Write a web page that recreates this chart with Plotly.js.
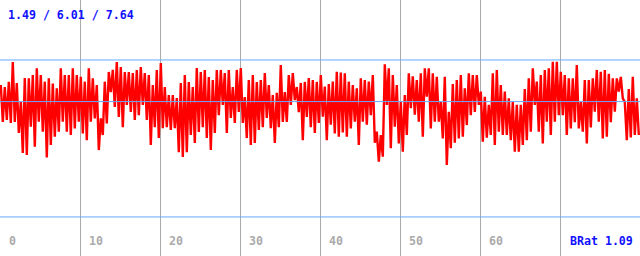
<!DOCTYPE html>
<html>
<head>
<meta charset="utf-8">
<script src="https://cdn.plot.ly/plotly-3.0.1.min.js"></script>
<style>
  html, body { margin: 0; padding: 0; background: #ffffff; }
  #chart { width: 640px; height: 256px; }
</style>
</head>
<body>
<div id="chart"></div>
<script>
// Per-column upper and lower readings of the signal (column width = 0.5 x-units)
const hiValues = [
  6.66,6.58,6.78,7.56,6.74,5.99,6.93,6.92,7.05,7.31,
  7.05,6.79,6.92,6.72,6.53,7.31,7.05,7.05,7.31,7.05,
  6.98,6.79,7.31,6.92,6.66,5.35,6.79,7.17,7.25,7.56,
  7.36,7.17,7.17,7.13,7.25,7.36,7.13,7.05,6.66,7.25,
  7.52,6.58,6.27,6.27,6.15,6.74,7.05,6.78,6.58,7.32,
  7.17,7.25,6.97,6.85,7.25,7.25,7.13,7.25,6.58,7.25,
  7.32,6.19,6.85,7.05,6.78,6.85,7.13,6.66,6.27,6.35,
  7.44,6.38,7.05,7.13,6.58,6.74,6.78,6.93,6.85,6.78,
  7.05,6.60,6.70,6.79,7.18,7.15,7.12,6.79,6.66,6.53,
  6.92,6.85,6.79,7.05,4.83,4.70,7.47,7.31,7.05,6.66,
  6.00,6.27,7.12,7.00,6.85,7.12,7.31,7.31,7.12,6.98,
  6.00,6.98,5.61,6.70,6.85,7.05,6.53,7.12,7.05,7.05,
  6.40,6.20,5.88,7.12,7.25,6.66,6.40,6.14,6.00,5.88,
  5.88,6.50,6.92,7.31,6.79,7.05,7.25,7.31,7.57,7.57,
  7.18,7.05,6.92,6.92,7.44,6.00,6.85,6.85,6.92,7.25,
  7.18,7.25,7.10,6.92,6.92,6.98,6.00,6.50,6.98,6.14
];
const loValues = [
  5.21,5.29,5.17,5.21,4.78,4.00,3.92,5.03,4.24,5.22,
  4.83,3.82,4.31,4.63,4.83,5.22,4.83,4.70,4.96,5.22,
  4.76,4.50,5.22,5.35,4.11,4.70,5.15,6.38,5.80,5.41,
  5.01,5.88,5.60,5.29,5.48,5.88,5.29,4.31,5.01,4.58,
  4.97,5.01,4.90,4.97,4.03,3.84,4.03,4.70,4.39,4.82,
  5.01,4.58,4.11,4.78,5.48,5.88,4.78,5.37,5.17,5.60,
  5.17,4.58,4.31,4.39,4.90,5.01,5.37,4.97,4.39,5.01,
  5.21,5.21,5.88,6.07,5.60,4.50,5.41,5.01,4.78,5.17,
  5.42,4.50,5.10,4.76,4.63,4.80,4.63,4.96,5.22,4.31,
  5.22,5.10,5.48,4.40,3.66,3.85,5.88,4.18,5.03,4.37,
  4.05,4.70,5.75,5.50,5.22,4.63,6.20,4.96,5.22,5.22,
  4.57,3.53,4.18,4.40,4.57,4.63,5.09,5.48,5.60,5.88,
  4.44,4.60,4.70,4.31,4.83,4.70,4.70,4.50,4.05,4.05,
  4.31,4.50,4.83,5.88,4.83,4.37,5.22,4.70,5.22,5.48,
  5.48,4.70,4.96,5.20,4.96,4.83,4.37,5.00,5.61,5.22,
  4.57,4.63,5.20,5.61,6.40,6.14,4.50,4.60,4.70,4.70
];
const refLevels = [1.49, 6.01, 7.64];         // horizontal reference lines
const headerText = "1.49 / 6.01 / 7.64";
const tickValues = [0, 10, 20, 30, 40, 50, 60];
const tickLabels = ["0", "10", "20", "30", "40", "50", "60"];
const footerValue = 70;
const footerText = "BRat 1.09";

const colStep = 0.5;
const xs = [], ys = [];
for (let k = 0; k < hiValues.length; k++) {
  xs.push(k * colStep, k * colStep + colStep / 2);
  ys.push(hiValues[k], loValues[k]);
}

const monoFont = "DejaVu Sans Mono, monospace";

const annotations = tickValues.map((v, i) => ({
  x: v, xref: "x", y: 0.0586, yref: "paper",
  text: tickLabels[i], showarrow: false,
  xanchor: "left", yanchor: "middle", xshift: 6,
  font: { family: monoFont, size: 11.6, color: "#aaaaaa", weight: "bold" }
}));
annotations.push({
  x: footerValue, xref: "x", y: 0.0586, yref: "paper",
  text: footerText, showarrow: false,
  xanchor: "left", yanchor: "middle", xshift: 7,
  font: { family: monoFont, size: 11.6, color: "#1010ff", weight: "bold" }
});
annotations.push({
  x: 0, xref: "paper", y: 1 - 15 / 256, yref: "paper",
  text: headerText, showarrow: false,
  xanchor: "left", yanchor: "middle", xshift: 6,
  font: { family: monoFont, size: 11.6, color: "#1010ff", weight: "bold" }
});

const shapes = refLevels.map(v => ({
  type: "line", xref: "paper", x0: 0, x1: 1, yref: "y", y0: v, y1: v,
  line: { color: "#66aaff", width: 1 }, layer: "above"
}));

const trace = {
  x: xs, y: ys, type: "scatter", mode: "lines",
  line: { color: "#ff0000", width: 2.4 },
  hoverinfo: "skip"
};

const layout = {
  width: 640, height: 256,
  margin: { l: 0, r: 0, t: 0, b: 0, pad: 0, autoexpand: false },
  paper_bgcolor: "#ffffff", plot_bgcolor: "#ffffff",
  showlegend: false,
  xaxis: {
    range: [-0.1, 79.9], tick0: 0, dtick: 10,
    showgrid: true, gridcolor: "#aaaaaa", gridwidth: 1,
    zeroline: false, showline: false, showticklabels: false, ticks: ""
  },
  yaxis: {
    range: [-0.04, 9.99],
    showgrid: false, zeroline: false, showline: false, showticklabels: false, ticks: ""
  },
  shapes: shapes,
  annotations: annotations
};

Plotly.newPlot("chart", [trace], layout, { staticPlot: true, displayModeBar: false });
</script>
</body>
</html>
